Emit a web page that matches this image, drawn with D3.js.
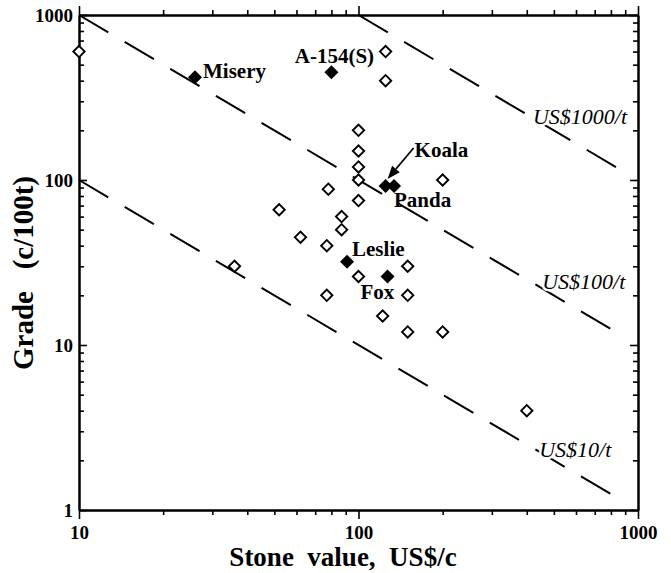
<!DOCTYPE html>
<html>
<head>
<meta charset="utf-8">
<script src="https://cdn.jsdelivr.net/npm/d3@7"></script>
<style>
  body { margin: 0; background: #fff; }
  text { font-family: "Liberation Serif", "Times New Roman", serif; }
</style>
</head>
<body>
<svg id="grafica"></svg>
<script>
// Grade vs stone value, log-log, with lines of equal value per tonne

const svg_w = 671;
const svg_h = 573;
const margin = {l:79, r:33, t:15, b:63};

// open diamonds: other deposits
const open_stone = [10, 125, 125, 100, 100, 100, 100, 100, 78, 200, 52, 87, 87, 62, 77, 36, 100, 150, 77, 150, 122, 150, 200, 400];
const open_grade = [600, 600, 400, 200, 150, 120, 100, 75, 88, 100, 66, 60, 50, 45, 40, 30, 26, 30, 20, 20, 15, 12, 12, 4];

// filled diamonds: named deposits
const named = ["Misery", "A-154(S)", "Koala", "Panda", "Leslie", "Fox"];
const named_stone = [26, 80, 125, 134, 91, 127];
const named_grade = [420, 450, 92, 92, 32, 26];

// dashed lines of equal value (US$/t), start and end points
const line_labels = ["US$1000/t", "US$100/t", "US$10/t"];
const line_stone = [[100, 900], [10, 900], [10, 900]];
const line_grade = [[1000, 111], [1000, 11.1], [100, 1.11]];
// where the line labels start
const line_label_stone = [421, 454, 443];
const line_label_grade = [218, 21.8, 2.1];

const x_major = [10, 100, 1000];
const y_major = [1, 10, 100, 1000];

let svg = d3.select("#grafica")
  .attr("width", svg_w)
  .attr("height", svg_h);

let x_scale = d3.scaleLog()
  .domain([10, 1000])
  .range([margin.l, svg_w - margin.r]);

let y_scale = d3.scaleLog()
  .domain([1, 1000])
  .range([svg_h - margin.b, margin.t]);

let x_minor = x_scale.ticks().filter(d => !x_major.includes(d));
let y_minor = y_scale.ticks().filter(d => !y_major.includes(d));

// ejes
function style_axis(g) {
  g.attr("font-family", "Liberation Serif, serif")
    .attr("font-size", 19)
    .attr("font-weight", "bold");
  g.select(".domain").attr("stroke-width", 2);
  g.selectAll(".tick line").attr("stroke-width", 1.6);
  g.selectAll(".tick text").attr("fill", "black");
}

let y0 = y_scale(1), y1 = y_scale(1000);
let x0 = x_scale(10), x1 = x_scale(1000);

svg.append("g")
  .attr("transform", `translate(0,${y0})`)
  .call(d3.axisBottom(x_scale).tickValues(x_major).tickSizeInner(9).tickSizeOuter(0)
    .tickPadding(7).tickFormat(d3.format("d")))
  .call(style_axis);
svg.append("g")
  .attr("transform", `translate(0,${y0})`)
  .call(d3.axisBottom(x_scale).tickValues(x_minor).tickSizeInner(5).tickSizeOuter(0).tickFormat(""))
  .call(style_axis);

svg.append("g")
  .attr("transform", `translate(0,${y1})`)
  .call(d3.axisTop(x_scale).tickValues(x_major).tickSizeInner(9).tickSizeOuter(0).tickFormat(""))
  .call(style_axis);
svg.append("g")
  .attr("transform", `translate(0,${y1})`)
  .call(d3.axisTop(x_scale).tickValues(x_minor).tickSizeInner(5).tickSizeOuter(0).tickFormat(""))
  .call(style_axis);

svg.append("g")
  .attr("transform", `translate(${x0},0)`)
  .call(d3.axisLeft(y_scale).tickValues(y_major).tickSizeInner(-8).tickSizeOuter(0)
    .tickPadding(6).tickFormat(d3.format("d")))
  .call(style_axis);
svg.append("g")
  .attr("transform", `translate(${x0},0)`)
  .call(d3.axisLeft(y_scale).tickValues(y_minor).tickSizeInner(-5).tickSizeOuter(0).tickFormat(""))
  .call(style_axis);

svg.append("g")
  .attr("transform", `translate(${x1},0)`)
  .call(d3.axisRight(y_scale).tickValues(y_major).tickSizeInner(-8).tickSizeOuter(0).tickFormat(""))
  .call(style_axis);
svg.append("g")
  .attr("transform", `translate(${x1},0)`)
  .call(d3.axisRight(y_scale).tickValues(y_minor).tickSizeInner(-5).tickSizeOuter(0).tickFormat(""))
  .call(style_axis);

// lineas de valor constante
let line = d3.line()
  .x(d => x_scale(d[0]))
  .y(d => y_scale(d[1]));

svg.append("g")
  .selectAll("path")
  .data(line_stone)
  .enter().append("path")
  .attr("d", (d, i) => line(d.map((s, j) => [s, line_grade[i][j]])))
  .attr("fill", "none")
  .attr("stroke", "black")
  .attr("stroke-width", 2)
  .attr("stroke-dasharray", "34,19");

svg.append("g")
  .selectAll("text")
  .data(line_labels)
  .enter().append("text")
  .attr("x", (d, i) => x_scale(line_label_stone[i]))
  .attr("y", (d, i) => y_scale(line_label_grade[i]))
  .attr("font-size", 22)
  .attr("font-style", "italic")
  .attr("stroke", "white")
  .attr("stroke-width", 5)
  .attr("paint-order", "stroke")
  .attr("fill", "black")
  .text(d => d);

// puntos
let diamond = d3.symbol().type(d3.symbolSquare).size(64);

svg.append("g")
  .selectAll("path")
  .data(open_stone)
  .enter().append("path")
  .attr("d", diamond)
  .attr("transform", (d, i) => `translate(${x_scale(d)},${y_scale(open_grade[i])}) rotate(45)`)
  .attr("fill", "white")
  .attr("stroke", "black")
  .attr("stroke-width", 1.9);

svg.append("g")
  .selectAll("path")
  .data(named_stone)
  .enter().append("path")
  .attr("d", diamond)
  .attr("transform", (d, i) => `translate(${x_scale(d)},${y_scale(named_grade[i])}) rotate(45)`)
  .attr("fill", "black")
  .attr("stroke", "black")
  .attr("stroke-width", 1.9);

// etiquetas de los depositos
const label_pos = {
  "Misery":   {dx: 8,   dy: 1,   anchor: "start"},
  "A-154(S)": {dx: 3,   dy: -9,  anchor: "middle"},
  "Koala":    {dx: 29,  dy: -29, anchor: "start"},
  "Panda":    {dx: 0,   dy: 21,  anchor: "start"},
  "Leslie":   {dx: 5,   dy: -6,  anchor: "start"},
  "Fox":      {dx: -27, dy: 22,  anchor: "start"}
};

svg.append("g")
  .selectAll("text")
  .data(named)
  .enter().append("text")
  .attr("x", (d, i) => x_scale(named_stone[i]) + label_pos[d].dx)
  .attr("y", (d, i) => y_scale(named_grade[i]) + label_pos[d].dy)
  .attr("text-anchor", d => label_pos[d].anchor)
  .attr("font-size", 21)
  .attr("font-weight", "bold")
  .attr("fill", "black")
  .text(d => d);

// flecha hacia Koala
let kx = x_scale(named_stone[2]), ky = y_scale(named_grade[2]);
let a_start = [kx + 28, ky - 38], a_end = [kx + 2, ky - 7];
let ang = Math.atan2(a_end[1] - a_start[1], a_end[0] - a_start[0]);
let head_l = 13, head_w = 5;
let base = [a_end[0] - head_l * Math.cos(ang), a_end[1] - head_l * Math.sin(ang)];
svg.append("line")
  .attr("x1", a_start[0]).attr("y1", a_start[1])
  .attr("x2", base[0]).attr("y2", base[1])
  .attr("stroke", "black").attr("stroke-width", 1.8);
svg.append("path")
  .attr("d", `M${a_end[0]},${a_end[1]}` +
    `L${base[0] + head_w * Math.sin(ang)},${base[1] - head_w * Math.cos(ang)}` +
    `L${base[0] - head_w * Math.sin(ang)},${base[1] + head_w * Math.cos(ang)}Z`)
  .attr("fill", "black");

// titulos de los ejes
svg.append("text")
  .attr("x", 343)
  .attr("y", 566)
  .attr("text-anchor", "middle")
  .attr("font-size", 27)
  .attr("font-weight", "bold")
  .style("white-space", "pre")
  .text("Stone  value,  US$/c");

svg.append("text")
  .attr("transform", "translate(33,273) rotate(-90)")
  .attr("text-anchor", "middle")
  .attr("font-size", 29)
  .attr("font-weight", "bold")
  .style("white-space", "pre")
  .text("Grade   (c/100t)");
</script>
</body>
</html>
